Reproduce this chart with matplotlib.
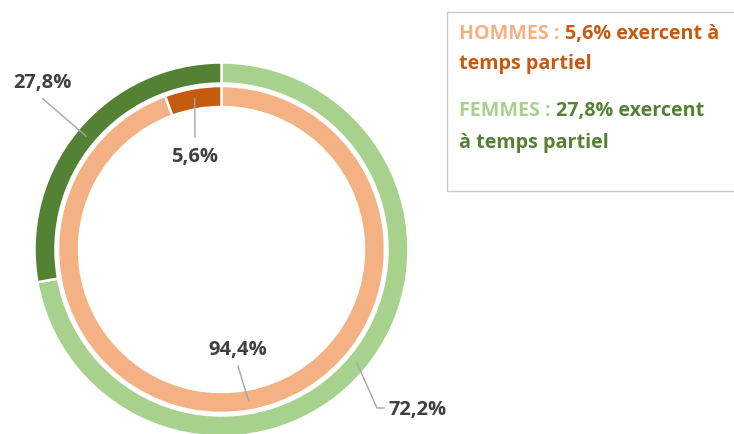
import numpy as np
import matplotlib
matplotlib.use("Agg")
import matplotlib.pyplot as plt
from matplotlib.transforms import IdentityTransform

# ---- data ----
femmes_labels = ["Temps plein", "Temps partiel"]
femmes_values = [72.2, 27.8]
hommes_labels = ["Temps plein", "Temps partiel"]
hommes_values = [94.4, 5.6]
femmes_colors = ["#A9D18E", "#548235"]
hommes_colors = ["#F4B183", "#C55A11"]

W, H = 734, 435
fig = plt.figure(figsize=(W / 100, H / 100), dpi=100)
ax = fig.add_axes([0, 0, 1, 1])

cx, cy = 221.5, H - 250.5
R_out, w_out = 187, 21
R_in, w_in = 163.5, 21

ax.pie(femmes_values, colors=femmes_colors, radius=R_out, center=(cx, cy),
       startangle=90, counterclock=False,
       wedgeprops=dict(width=w_out, edgecolor="white", linewidth=1.8))
ax.pie(hommes_values, colors=hommes_colors, radius=R_in, center=(cx, cy),
       startangle=90, counterclock=False,
       wedgeprops=dict(width=w_in, edgecolor="white", linewidth=1.8))
ax.set_xlim(0, W)
ax.set_ylim(0, H)
ax.set_aspect("equal")
ax.axis("off")

FONT = "Open Sans"
lab_kw = dict(fontsize=14.5, fontweight="bold", color="#404040", family=FONT)
line_kw = dict(color="#A6A6A6", linewidth=1)


def mid_point(values, i, r):
    tot = sum(values)
    start = 90 - 360 * sum(values[:i]) / tot
    ang = np.deg2rad(start - 180 * values[i] / tot)
    return cx + r * np.cos(ang), cy + r * np.sin(ang)


def fmt(v):
    return f"{v:.1f}%".replace(".", ",")

# Femmes partiel (27,8%)
px, py = mid_point(femmes_values, 1, R_out - w_out / 2)
ax.plot([43, px], [H - 100, py], **line_kw)
ax.text(42, H - 83, fmt(femmes_values[1]), ha="center", va="center", **lab_kw)
# Hommes partiel (5,6%)
px, py = mid_point(hommes_values, 1, R_in - w_in / 2)
ax.plot([px, 195], [py, H - 138], **line_kw)
ax.text(195, H - 157, fmt(hommes_values[1]), ha="center", va="center", **lab_kw)
# Hommes plein (94,4%)
px, py = mid_point(hommes_values, 0, R_in - w_in / 2)
ax.plot([px, 238], [py, H - 367], **line_kw)
ax.text(238, H - 350, fmt(hommes_values[0]), ha="center", va="center", **lab_kw)
# Femmes plein (72,2%)
px, py = mid_point(femmes_values, 0, R_out - w_out / 2)
ax.plot([px, 377, 384], [py, H - 409, H - 409], **line_kw)
ax.text(389, H - 410, fmt(femmes_values[0]), ha="left", va="center", **lab_kw)

# ---- legend box ----
ax.add_patch(plt.Rectangle((447, H - 192), 300, 179, fill=False,
                           edgecolor="#C8C8C8", linewidth=1, clip_on=False))

renderer = fig.canvas.get_renderer()
leg_kw = dict(fontsize=14.2, fontweight="bold", family=FONT, va="center",
              ha="left", transform=IdentityTransform())


def rich_line(x, y, parts):
    for txt, col in parts:
        t = fig.text(x, y, txt, color=col, **leg_kw)
        bb = t.get_window_extent(renderer=renderer)
        x = bb.x1

rich_line(459, H - 34, [("HOMMES : ", hommes_colors[0]),
                        (f"{fmt(hommes_values[1])} exercent à", hommes_colors[1])])
rich_line(459, H - 64, [("temps partiel", hommes_colors[1])])
rich_line(459, H - 111, [("FEMMES : ", femmes_colors[0]),
                         (f"{fmt(femmes_values[1])} exercent", femmes_colors[1])])
rich_line(459, H - 143, [("à temps partiel", femmes_colors[1])])

fig.savefig("out.png", dpi=100)
